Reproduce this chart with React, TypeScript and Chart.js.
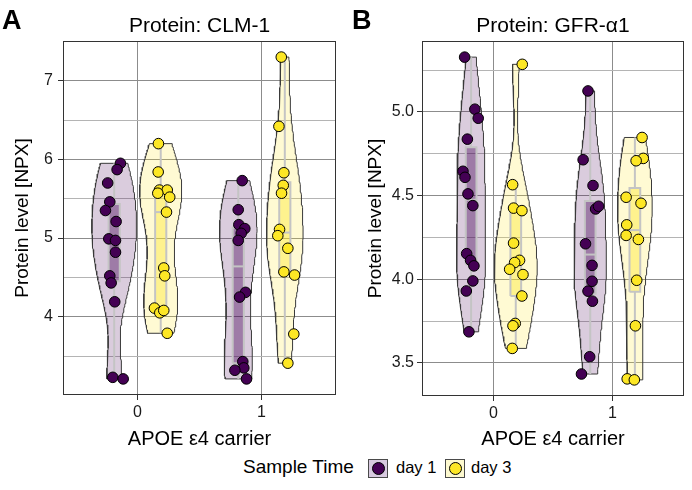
import React, { useEffect, useRef } from "react";
import { Chart, registerables } from "chart.js";

Chart.register(...registerables);

const FONT = "'Liberation Sans', Arial, Helvetica, sans-serif";

// ---------------- text ----------------
const carrierCategories = ["0", "1"];
const sampleTimes = ["day 1", "day 3"];
const panelTitles = ["Protein: CLM-1", "Protein: GFR-α1"];
const panelLetters = ["A", "B"];
const xAxisTitle = "APOE ε4 carrier";
const yAxisTitle = "Protein level [NPX]";
const legendTitle = "Sample Time";

// ---------------- Panel A: CLM-1 ----------------
const clmDay1Carrier0 = [5.95, 5.87, 5.7, 5.46, 5.35, 5.21, 4.99, 4.97, 4.82, 4.52, 4.43, 4.19, 3.23, 3.21];
const clmDay1Carrier0X = [-0.137, -0.164, -0.24, -0.223, -0.258, -0.172, -0.231, -0.177, -0.177, -0.223, -0.212, -0.183, -0.199, -0.115];
const clmDay3Carrier0 = [6.2, 5.84, 5.61, 5.61, 5.57, 5.52, 5.33, 4.62, 4.52, 4.11, 4.05, 4.08, 3.79];
const clmDay3Carrier0X = [0.169, 0.167, 0.177, 0.24, 0.164, 0.26, 0.234, 0.212, 0.22, 0.137, 0.18, 0.212, 0.24];
const clmDay1Carrier1 = [5.73, 5.36, 5.17, 5.12, 5.06, 4.97, 4.31, 4.25, 3.43, 3.35, 3.32, 3.21];
const clmDay1Carrier1X = [0.844, 0.812, 0.817, 0.865, 0.836, 0.812, 0.871, 0.823, 0.849, 0.857, 0.785, 0.879];
const clmDay3Carrier1 = [7.3, 6.42, 5.83, 5.67, 5.57, 5.11, 5.03, 4.87, 4.57, 4.53, 3.78, 3.41];
const clmDay3Carrier1X = [1.159, 1.14, 1.18, 1.175, 1.161, 1.145, 1.131, 1.212, 1.18, 1.266, 1.26, 1.212];

// ---------------- Panel B: GFR-α1 ----------------
const gfrDay1Carrier0 = [5.327, 5.016, 4.962, 4.837, 4.645, 4.609, 4.51, 4.44, 4.153, 4.113, 4.08, 3.99, 3.93, 3.686];
const gfrDay1Carrier0X = [-0.242, -0.156, -0.128, -0.219, -0.256, -0.239, -0.214, -0.173, -0.225, -0.192, -0.164, -0.173, -0.228, -0.206];
const gfrDay3Carrier0 = [5.284, 4.565, 4.425, 4.41, 4.216, 4.113, 4.1, 4.06, 4.028, 3.9, 3.736, 3.722, 3.587];
const gfrDay3Carrier0X = [0.242, 0.161, 0.169, 0.239, 0.169, 0.219, 0.178, 0.136, 0.248, 0.239, 0.183, 0.164, 0.158];
const gfrDay1Carrier1 = [5.125, 4.714, 4.56, 4.42, 4.436, 4.212, 4.083, 3.988, 3.929, 3.869, 3.537, 3.434];
const gfrDay1Carrier1X = [0.794, 0.753, 0.836, 0.858, 0.883, 0.773, 0.828, 0.828, 0.794, 0.831, 0.808, 0.739];
const gfrDay3Carrier1 = [4.847, 4.722, 4.708, 4.49, 4.454, 4.325, 4.262, 4.238, 3.994, 3.722, 3.405, 3.399];
const gfrDay3Carrier1X = [1.248, 1.258, 1.198, 1.114, 1.239, 1.119, 1.114, 1.217, 1.203, 1.192, 1.123, 1.183];

// ---------------- style ----------------
const timeColors = ["#440154", "#FDE725"];
const violinFills = ["rgba(68,1,84,0.2)", "rgba(253,231,37,0.2)"];
const boxFills = ["rgba(68,1,84,0.4)", "rgba(253,231,37,0.4)"];
const legendKeyFills = ["#d8cae0", "#fdf9cf"];
const dodgeOffsets = [-0.1875, 0.1875];
const VIOLIN_HALF = 0.18;
const BOX_HALF = 0.045;
const BOX_LINE = "#c4c4c4";
const GRID_MAJOR = "#8c8c8c";
const GRID_MINOR = "#b4b4b4";

type Group = { values: number[]; xs: number[]; cat: number; time: number };

function quantile(sorted: number[], p: number) {
  const h = (sorted.length - 1) * p;
  const lo = Math.floor(h);
  const hi = Math.min(lo + 1, sorted.length - 1);
  return sorted[lo] + (h - lo) * (sorted[hi] - sorted[lo]);
}

function buildDatasets(groups: Group[]) {
  const stats = groups.map((g) => {
    const s = [...g.values].sort((a, b) => a - b);
    const n = s.length;
    const mean = s.reduce((a, b) => a + b, 0) / n;
    const sdv = Math.sqrt(s.reduce((a, b) => a + (b - mean) * (b - mean), 0) / (n - 1));
    const q1 = quantile(s, 0.25);
    const med = quantile(s, 0.5);
    const q3 = quantile(s, 0.75);
    const iqr = q3 - q1;
    let lo = Math.min(sdv, iqr / 1.34);
    if (!(lo > 0)) lo = sdv || 1;
    const bw = 0.9 * lo * Math.pow(n, -0.2);
    const ys: number[] = [];
    const dens: number[] = [];
    const steps = 120;
    for (let i = 0; i <= steps; i++) {
      const y = s[0] + ((s[n - 1] - s[0]) * i) / steps;
      let d = 0;
      for (const v of s) {
        const z = (y - v) / bw;
        d += Math.exp(-0.5 * z * z);
      }
      d /= n * bw * Math.sqrt(2 * Math.PI);
      ys.push(y);
      dens.push(d);
    }
    const loW = Math.min(...s.filter((v) => v >= q1 - 1.5 * iqr));
    const hiW = Math.max(...s.filter((v) => v <= q3 + 1.5 * iqr));
    return { q1, med, q3, loW, hiW, ys, dens };
  });
  const maxD = Math.max(...stats.flatMap((st) => st.dens));
  const datasets: any[] = [];
  groups.forEach((g, gi) => {
    const st = stats[gi];
    const c = g.cat + dodgeOffsets[g.time];
    const right = st.ys.map((y, i) => ({ x: c + (VIOLIN_HALF * st.dens[i]) / maxD, y }));
    const left = st.ys.map((y, i) => ({ x: c - (VIOLIN_HALF * st.dens[i]) / maxD, y })).reverse();
    datasets.push({
      type: "line",
      data: [...right, ...left, right[0]],
      fill: "shape",
      backgroundColor: violinFills[g.time],
      borderColor: "#3a3a3a",
      borderWidth: 1,
      pointRadius: 0,
      tension: 0,
      order: 5,
    });
    datasets.push({
      type: "line",
      data: [{ x: c, y: st.loW }, { x: c, y: st.q1 }],
      borderColor: BOX_LINE,
      borderWidth: 2,
      pointRadius: 0,
      fill: false,
      order: 4,
    });
    datasets.push({
      type: "line",
      data: [{ x: c, y: st.q3 }, { x: c, y: st.hiW }],
      borderColor: BOX_LINE,
      borderWidth: 2,
      pointRadius: 0,
      fill: false,
      order: 4,
    });
    datasets.push({
      type: "line",
      data: [
        { x: c - BOX_HALF, y: st.q1 },
        { x: c + BOX_HALF, y: st.q1 },
        { x: c + BOX_HALF, y: st.q3 },
        { x: c - BOX_HALF, y: st.q3 },
        { x: c - BOX_HALF, y: st.q1 },
      ],
      fill: "shape",
      backgroundColor: boxFills[g.time],
      borderColor: BOX_LINE,
      borderWidth: 2,
      pointRadius: 0,
      order: 3,
    });
    datasets.push({
      type: "line",
      data: [{ x: c - BOX_HALF, y: st.med }, { x: c + BOX_HALF, y: st.med }],
      borderColor: BOX_LINE,
      borderWidth: 2,
      pointRadius: 0,
      fill: false,
      order: 2,
    });
    datasets.push({
      type: "scatter",
      data: g.values.map((v, i) => ({ x: g.xs[i], y: v })),
      backgroundColor: timeColors[g.time],
      borderColor: "#000000",
      borderWidth: 1,
      pointRadius: 5.3,
      order: 1,
    });
  });
  const all = groups.flatMap((g) => g.values);
  const lo = Math.min(...all);
  const hi = Math.max(...all);
  const pad = (hi - lo) * 0.05;
  return { datasets, yMin: lo - pad, yMax: hi + pad };
}

const panelBorder = {
  id: "panelBorder",
  afterDatasetsDraw(chart: any) {
    const { ctx, chartArea } = chart;
    ctx.save();
    ctx.strokeStyle = "#333333";
    ctx.lineWidth = 1;
    ctx.strokeRect(
      Math.round(chartArea.left) + 0.5,
      Math.round(chartArea.top) + 0.5,
      Math.round(chartArea.right - chartArea.left) - 1,
      Math.round(chartArea.bottom - chartArea.top) - 1
    );
    ctx.restore();
  },
};

type PanelCfg = {
  title: string;
  groups: Group[];
  majorStep: number;
  minorStep: number;
  decimals: number;
  yAxisWidth: number;
  rightPad: number;
  xAxisHeight: number;
  yTitlePad: number;
  yTickPad: number;
};

function makeConfig(p: PanelCfg): any {
  const { datasets, yMin, yMax } = buildDatasets(p.groups);
  const isMajor = (v: number) => Math.abs(v / p.majorStep - Math.round(v / p.majorStep)) < 1e-6;
  return {
    type: "scatter",
    data: { datasets },
    plugins: [panelBorder],
    options: {
      animation: false,
      responsive: false,
      maintainAspectRatio: false,
      devicePixelRatio: 1,
      layout: { padding: { top: 0, right: p.rightPad, bottom: 0, left: 0 } },
      plugins: {
        legend: { display: false },
        tooltip: { enabled: false },
        title: {
          display: true,
          text: p.title,
          fullSize: false,
          color: "#000000",
          font: { family: FONT, size: 21, weight: "normal" },
          padding: { top: 14, bottom: 1.8 },
        },
      },
      scales: {
        x: {
          type: "linear",
          min: -0.6,
          max: 1.6,
          afterBuildTicks: (scale: any) => {
            scale.ticks = carrierCategories.map((_, i) => ({ value: i }));
          },
          afterFit: (scale: any) => {
            scale.height = p.xAxisHeight;
          },
          ticks: {
            autoSkip: false,
            maxRotation: 0,
            padding: 3,
            color: "#1a1a1a",
            font: { family: FONT, size: 16 },
            callback: (v: number) => carrierCategories[Math.round(v)] ?? "",
          },
          grid: { color: GRID_MAJOR, lineWidth: 1, tickLength: 5, tickColor: "#333333" },
          border: { display: false },
          title: {
            display: true,
            text: xAxisTitle,
            color: "#000000",
            font: { family: FONT, size: 20 },
            padding: { top: 0, bottom: 4 },
          },
        },
        y: {
          type: "linear",
          min: yMin,
          max: yMax,
          afterBuildTicks: (scale: any) => {
            const t: any[] = [];
            const start = Math.ceil(scale.min / p.minorStep - 1e-9) * p.minorStep;
            for (let v = start; v <= scale.max + 1e-9; v += p.minorStep) t.push({ value: +v.toFixed(6) });
            scale.ticks = t;
          },
          afterFit: (scale: any) => {
            scale.width = p.yAxisWidth;
          },
          ticks: {
            autoSkip: false,
            padding: p.yTickPad,
            color: "#1a1a1a",
            font: { family: FONT, size: 16 },
            callback: (v: number) => (isMajor(v) ? Number(v).toFixed(p.decimals) : ""),
          },
          grid: {
            lineWidth: 1,
            tickLength: 5,
            color: (ctx: any) => (ctx.tick && isMajor(ctx.tick.value) ? GRID_MAJOR : GRID_MINOR),
            tickColor: (ctx: any) => (ctx.tick && isMajor(ctx.tick.value) ? "#333333" : "rgba(0,0,0,0)"),
          },
          border: { display: false },
          title: {
            display: true,
            text: yAxisTitle,
            color: "#000000",
            font: { family: FONT, size: 19 },
            padding: { top: p.yTitlePad, bottom: 0 },
          },
        },
      },
    },
  };
}

const panelA: PanelCfg = {
  title: panelTitles[0],
  groups: [
    { values: clmDay1Carrier0, xs: clmDay1Carrier0X, cat: 0, time: 0 },
    { values: clmDay3Carrier0, xs: clmDay3Carrier0X, cat: 0, time: 1 },
    { values: clmDay1Carrier1, xs: clmDay1Carrier1X, cat: 1, time: 0 },
    { values: clmDay3Carrier1, xs: clmDay3Carrier1X, cat: 1, time: 1 },
  ],
  majorStep: 1,
  minorStep: 0.5,
  decimals: 0,
  yAxisWidth: 63,
  rightPad: 10,
  xAxisHeight: 60,
  yTitlePad: 11,
  yTickPad: 5,
};

const panelB: PanelCfg = {
  title: panelTitles[1],
  groups: [
    { values: gfrDay1Carrier0, xs: gfrDay1Carrier0X, cat: 0, time: 0 },
    { values: gfrDay3Carrier0, xs: gfrDay3Carrier0X, cat: 0, time: 1 },
    { values: gfrDay1Carrier1, xs: gfrDay1Carrier1X, cat: 1, time: 0 },
    { values: gfrDay3Carrier1, xs: gfrDay3Carrier1X, cat: 1, time: 1 },
  ],
  majorStep: 0.5,
  minorStep: 0.25,
  decimals: 1,
  yAxisWidth: 76,
  rightPad: 8,
  xAxisHeight: 59,
  yTitlePad: 18.5,
  yTickPad: 3,
};

const keyLefts = [368, 445];
const labelLefts = [396, 471];

export default function App() {
  const refA = useRef<HTMLCanvasElement>(null);
  const refB = useRef<HTMLCanvasElement>(null);

  useEffect(() => {
    const a = new Chart(refA.current as HTMLCanvasElement, makeConfig(panelA));
    const b = new Chart(refB.current as HTMLCanvasElement, makeConfig(panelB));
    return () => {
      a.destroy();
      b.destroy();
    };
  }, []);

  const letterStyle: React.CSSProperties = {
    position: "absolute",
    top: 6.5,
    fontFamily: FONT,
    fontWeight: "bold",
    fontSize: 27,
    lineHeight: "27px",
    color: "#000",
  };

  return (
    <div
      style={{
        position: "fixed",
        left: 0,
        top: 0,
        width: 692,
        height: 490,
        background: "#ffffff",
        overflow: "hidden",
      }}
    >
      <canvas ref={refA} width={346} height={455} style={{ position: "absolute", left: 0, top: 0, width: 346, height: 455 }} />
      <canvas ref={refB} width={346} height={455} style={{ position: "absolute", left: 346, top: 0, width: 346, height: 455 }} />
      <div style={{ ...letterStyle, left: 2 }}>{panelLetters[0]}</div>
      <div style={{ ...letterStyle, left: 352 }}>{panelLetters[1]}</div>
      <div
        style={{
          position: "absolute",
          left: 243,
          top: 456.6,
          fontFamily: FONT,
          fontSize: 19,
          lineHeight: "19px",
          color: "#000",
          whiteSpace: "nowrap",
        }}
      >
        {legendTitle}
      </div>
      {sampleTimes.map((t, i) => (
        <React.Fragment key={t}>
          <div
            style={{
              position: "absolute",
              left: keyLefts[i],
              top: 459,
              width: 20,
              height: 19,
              boxSizing: "border-box",
              border: "1px solid #4a4a4a",
              background: legendKeyFills[i],
            }}
          >
            <div
              style={{
                position: "absolute",
                left: 2.5,
                top: 2,
                width: 11,
                height: 11,
                borderRadius: "50%",
                background: timeColors[i],
                border: "1px solid #000",
              }}
            />
          </div>
          <div
            style={{
              position: "absolute",
              left: labelLefts[i],
              top: 459.3,
              fontFamily: FONT,
              fontSize: 16.5,
              lineHeight: "16.5px",
              color: "#000",
              whiteSpace: "nowrap",
            }}
          >
            {t}
          </div>
        </React.Fragment>
      ))}
    </div>
  );
}
